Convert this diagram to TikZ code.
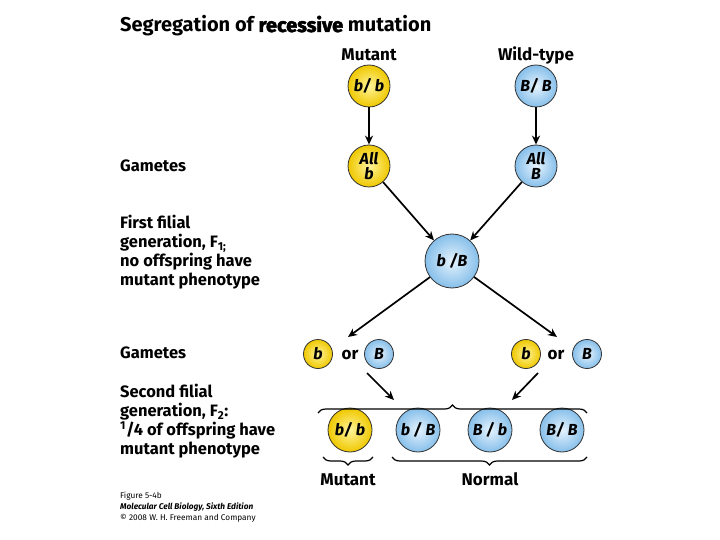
\documentclass[tikz,border=0pt]{standalone}
\usepackage{fontspec}
\setmainfont{Fira Sans}
\newfontfamily\heavyfont[BoldFeatures={FakeBold=2.5}]{Fira Sans}
\usetikzlibrary{arrows.meta,decorations.pathreplacing}
\definecolor{yin}{HTML}{FFF49A}
\definecolor{yout}{HTML}{EFC800}
\definecolor{bin}{HTML}{E6F3FD}
\definecolor{bout}{HTML}{86BFEA}
\tikzset{
  ycirc/.style={circle,draw=black!80,line width=0.8pt,inner sep=0pt,shade,inner color=yin,outer color=yout,font=\bfseries\itshape\fontsize{16}{15}\selectfont,align=center},
  bcirc/.style={circle,draw=black!80,line width=0.8pt,inner sep=0pt,shade,inner color=bin,outer color=bout,font=\bfseries\itshape\fontsize{16}{15}\selectfont,align=center},
  lbl/.style={anchor=north west,align=left,font=\bfseries\fontsize{16.5}{19}\selectfont,inner sep=0pt},
  hdr/.style={anchor=base,font=\bfseries\fontsize{17}{17}\selectfont,inner sep=0pt},
  arr/.style={-{Stealth[length=9pt,width=8pt]},line width=1.7pt},
  brace/.style={decorate,decoration={brace,amplitude=8pt},line width=1.2pt},
}
\begin{document}
\begin{tikzpicture}[x=1pt,y=-1pt]
\useasboundingbox (0,0) rectangle (720,540);
% title
\node[anchor=base west,inner sep=0pt,font=\bfseries\fontsize{20}{20}\selectfont] (title) at (120,32) {Segregation of {\heavyfont\bfseries recessive} mutation};
% headers
\node[hdr] (hm) at (369,61) {Mutant};
\node[hdr] (hw) at (536,61) {Wild-type};
% parents
\node[ycirc,minimum size=42pt] (pbb) at (369,86) {b/ b};
\node[bcirc,minimum size=42pt] (pBB) at (536,86) {B/ B};
% gametes 1
\node[ycirc,minimum size=42pt] (gb) at (369,166) {All\\b};
\node[bcirc,minimum size=42pt] (gB) at (536,166) {All\\B};
% F1
\node[bcirc,minimum size=54pt] (f1) at (452,261) {b /B};
% gametes 2
\node[ycirc,minimum size=29pt] (g1) at (318,354) {b};
\node[hdr] (or1) at (350,359) {or};
\node[bcirc,minimum size=29pt] (g2) at (379,354) {B};
\node[ycirc,minimum size=29pt] (g3) at (526,354) {b};
\node[hdr] (or2) at (556,359) {or};
\node[bcirc,minimum size=29pt] (g4) at (587,354) {B};
% F2
\node[ycirc,minimum size=44pt] (c1) at (350,430) {b/ b};
\node[bcirc,minimum size=44pt] (c2) at (418,430) {b / B};
\node[bcirc,minimum size=44pt] (c3) at (490,430) {B / b};
\node[bcirc,minimum size=44pt] (c4) at (562,430) {B/ B};
% left labels
\node[lbl,anchor=base west] (lg1) at (120,172) {Gametes};
\node[lbl] (lf1) at (120,215) {First filial\\generation, F\textsubscript{1;}\\no offspring have\\mutant phenotype};
\node[lbl,anchor=base west] (lg2) at (120,358) {Gametes};
\node[lbl] (lf2) at (120,384) {Second filial\\generation, F\textsubscript{2}:\\\textsuperscript{1}/4 of offspring have\\mutant phenotype};
% bottom labels
\node[hdr] (lm) at (348,485) {Mutant};
\node[hdr] (ln) at (490,485) {Normal};
% caption
\node[anchor=north west,align=left,inner sep=0pt,font=\fontsize{8.3}{11}\selectfont] (cap) at (120,492) {Figure 5-4b\\\textit{\bfseries Molecular Cell Biology, Sixth Edition}\\\textcopyright{} 2008 W. H. Freeman and Company};
% arrows
\draw[arr] (pbb) -- (gb);
\draw[arr] (pBB) -- (gB);
\draw[arr] (gb) -- (f1);
\draw[arr] (gB) -- (f1);
\coordinate (a1) at (348,337);
\coordinate (a2) at (557,337);
\draw[arr] (f1) -- (a1);
\draw[arr] (f1) -- (a2);
\coordinate (s1) at (367,373);
\coordinate (s2) at (538,373);
\coordinate (t1) at (394,400);
\coordinate (t2) at (512,400);
\draw[arr] (s1) -- (t1);
\draw[arr] (s2) -- (t2);
% braces
\coordinate (b1l) at (318,413);
\coordinate (b1r) at (587,413);
\draw[brace] (b1l) -- (b1r);
\coordinate (b2l) at (373,457);
\coordinate (b2r) at (323,457);
\draw[brace] (b2l) -- (b2r);
\coordinate (b3l) at (587,457);
\coordinate (b3r) at (392,457);
\draw[brace] (b3l) -- (b3r);
\end{tikzpicture}
\end{document}
